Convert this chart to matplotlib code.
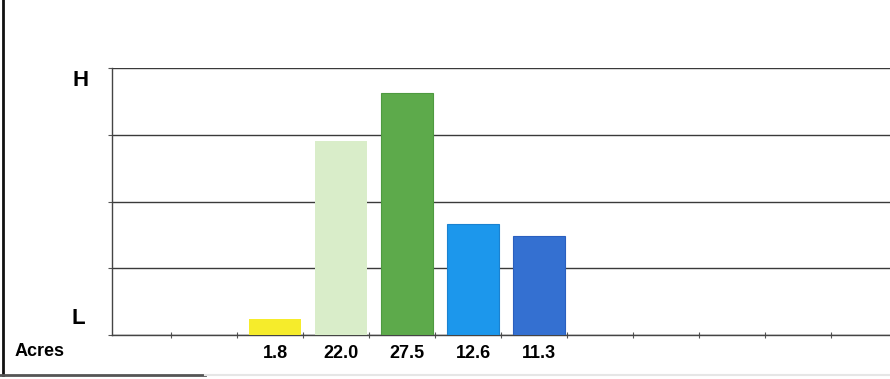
import numpy as np
import matplotlib
matplotlib.use("Agg")
import matplotlib.pyplot as plt
from matplotlib.lines import Line2D

# acres per category (empty slots left blank like the original)
labels = ["", "", "1.8", "22.0", "27.5", "12.6", "11.3", "", "", "", "", ""]
acres = [np.nan, np.nan, 1.8, 22.0, 27.5, 12.6, 11.3, np.nan, np.nan, np.nan, np.nan, np.nan]
colors = ["white", "white", "#f6ec2b", "#d9edc9", "#5daa4b", "#1c97ec", "#3470d1",
          "white", "white", "white", "white", "white"]
edges = ["none", "none", "none", "none", "#4e9a40", "#1a82d0", "#2a5fbf",
         "none", "none", "none", "none", "none"]

plt.rcParams['font.family'] = ['Liberation Sans', 'DejaVu Sans']

fig = plt.figure(figsize=(8.9, 3.79), dpi=100)
ax = fig.add_axes([112 / 890, 44 / 379, 778 / 890, 267 / 379])

x = np.arange(len(acres))
ax.bar(x, acres, width=0.79, color=colors, edgecolor=edges, linewidth=0.8, zorder=3)

ymax = 30.34
ax.set_ylim(0, ymax)
ax.set_xlim(-0.47, 11.32)
ax.set_yticks(np.linspace(0, ymax, 5))
ax.set_yticklabels([])
ax.yaxis.grid(True, color="#3a3a3a", linewidth=1.0, zorder=1)
ax.tick_params(axis="y", length=3, color="#555555", width=0.8)

ax.set_xticks(x)
ax.set_xticklabels(labels, fontsize=13, fontweight="bold")
ax.set_xticks(x[:-1] + 0.43, minor=True)
ax.tick_params(axis="x", which="major", length=0, pad=7)
ax.tick_params(axis="x", which="minor", length=5, direction="inout", color="#555555", width=0.8)

for side in ["top", "right"]:
    ax.spines[side].set_visible(False)
ax.spines["left"].set_color("#444444")
ax.spines["left"].set_linewidth(1.0)
ax.spines["bottom"].set_color("#444444")
ax.spines["bottom"].set_linewidth(1.0)

fig.text(81 / 890, 1 - 81 / 379, "H", fontsize=16, fontweight="bold",
         ha="center", va="center")
fig.text(78 / 890, 1 - 318 / 379, "L", fontsize=16, fontweight="bold",
         ha="center", va="center")
fig.text(15 / 890, 1 - 352 / 379, "Acres", fontsize=13, fontweight="bold",
         ha="left", va="center")

# scanned page border
fig.add_artist(Line2D([2.5 / 890, 2.5 / 890], [4 / 379, 1.0], color="#111111", linewidth=2))
fig.add_artist(Line2D([0, 205 / 890], [4 / 379, 4 / 379], color="#555555", linewidth=2))
fig.add_artist(Line2D([205 / 890, 1.0], [4 / 379, 4 / 379], color="#e6e6e6", linewidth=1.5))

fig.savefig("out.png", dpi=100)
